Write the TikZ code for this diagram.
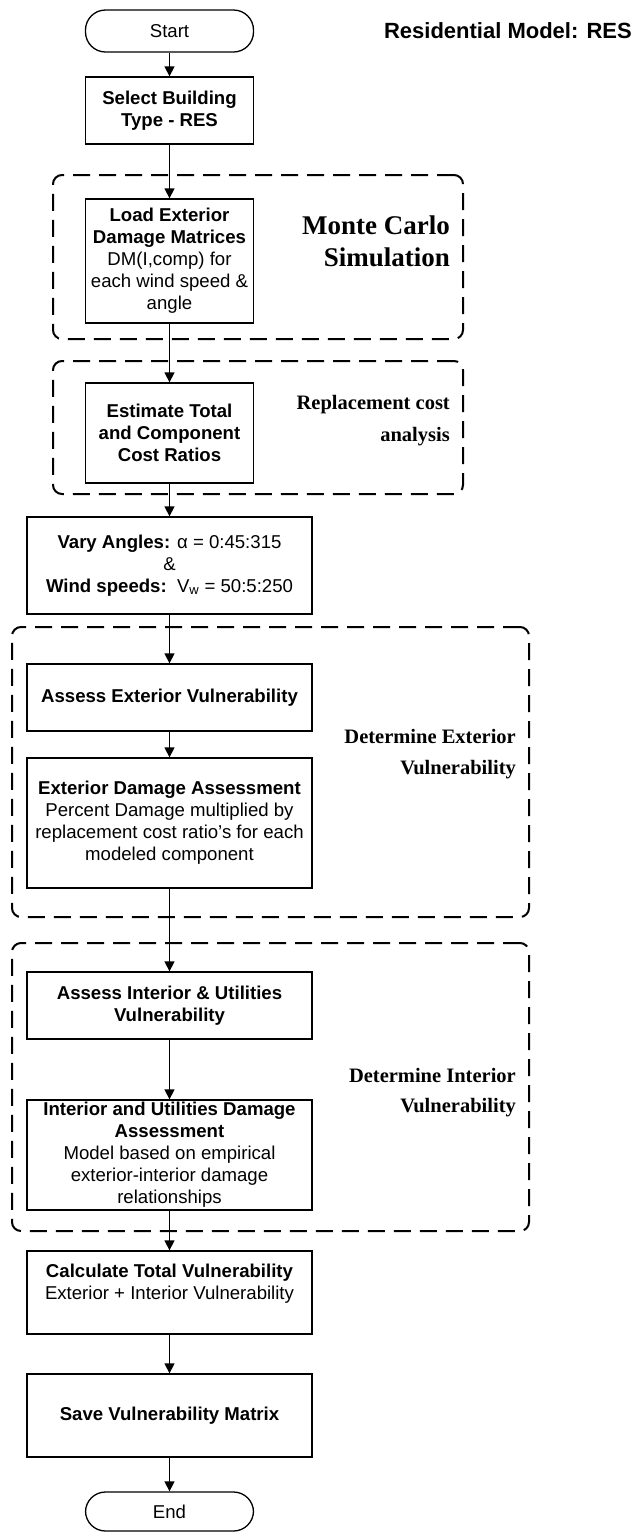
\documentclass[tikz,border=0pt]{standalone}
\usepackage{fontspec}
\setmainfont{Liberation Sans}
\newfontfamily\tnr{Liberation Serif}
\usetikzlibrary{arrows.meta}
\tikzset{
  box/.style={draw, line width=1.3pt, minimum width=168pt, inner sep=0pt, align=center,
    font=\fontsize{18.6}{22}\selectfont},
  widebox/.style={box, minimum width=285pt},
  term/.style={box, rounded corners=20pt},
  group/.style={draw, line width=2pt, dash pattern=on 17pt off 9pt, rounded corners=9pt, inner sep=0pt},
  glabel/.style={anchor=east, align=right, inner sep=0pt},
  arr/.style={line width=1.3pt, -{Triangle[length=10pt,width=10pt]}},
}
\begin{document}
\begin{tikzpicture}[x=1pt,y=-1pt]
\useasboundingbox (0,0) rectangle (634,1532);
% groups
\node[group, minimum width=410pt, minimum height=164pt] (mc) at (258,257) {};
\node[group, minimum width=410pt, minimum height=133pt] (rep) at (258,427.5) {};
\node[group, minimum width=517pt, minimum height=290pt] (extg) at (270.5,772) {};
\node[group, minimum width=517pt, minimum height=288pt] (intg) at (270.5,1087) {};
% group labels
\node[glabel, font=\tnr\bfseries\fontsize{27}{32}\selectfont] (mcl) at (450,241) {Monte Carlo\\Simulation};
\node[glabel, font=\tnr\bfseries\fontsize{20.5}{32}\selectfont] (repl) at (450,421) {Replacement cost\\analysis};
\node[glabel, font=\tnr\bfseries\fontsize{20.5}{31}\selectfont] (extl) at (516,754.5) {Determine Exterior\\Vulnerability};
\node[glabel, font=\tnr\bfseries\fontsize{20.5}{30}\selectfont] (intl) at (516,1093) {Determine Interior\\Vulnerability};
% title
\node[anchor=east, inner sep=0pt, font=\bfseries\fontsize{22}{24}\selectfont] (title) at (632,31) {Residential Model: RES};
% flow
\node[term, minimum height=42pt] (start) at (169.5,31) {Start};
\node[box, minimum height=67pt] (select) at (169.5,110.5) {\textbf{Select Building}\\\textbf{Type - RES}};
\node[box, minimum height=124pt] (load) at (169.5,261) {\textbf{Load Exterior}\\\textbf{Damage Matrices}\\DM(I,comp) for\\each wind speed \&\\angle};
\node[box, minimum height=100pt] (est) at (169.5,433) {\textbf{Estimate Total}\\\textbf{and Component}\\\textbf{Cost Ratios}};
\node[widebox, minimum height=97pt] (vary) at (169.5,565.5) {\textbf{Vary Angles:} α = 0:45:315\\\&\\\textbf{Wind speeds:}\ \ V\textsubscript{w} = 50:5:250};
\node[widebox, minimum height=67pt] (aext) at (169.5,697.5) {\textbf{Assess Exterior Vulnerability}};
\node[widebox, minimum height=130pt] (dext) at (169.5,823) {\textbf{Exterior Damage Assessment}\\Percent Damage multiplied by\\replacement cost ratio’s for each\\modeled component};
\node[widebox, minimum height=67pt] (aint) at (169.5,1005.5) {\textbf{Assess Interior \& Utilities}\\\textbf{Vulnerability}};
\node[widebox, minimum height=110pt] (dint) at (169.5,1155) {\textbf{Interior and Utilities Damage}\\\textbf{Assessment}\\Model based on empirical\\exterior-interior damage\\relationships};
\node[widebox, minimum height=83pt] (calc) at (169.5,1292.5) {\textbf{Calculate Total Vulnerability}\\Exterior + Interior Vulnerability\\\mbox{}};
\node[widebox, minimum height=83pt] (save) at (169.5,1415.5) {\textbf{Save Vulnerability Matrix}};
\node[term, minimum height=39pt] (end) at (169.5,1511.5) {End};
% connectors
\draw[arr] (start) -- (select);
\draw[arr] (select) -- (load);
\draw[arr] (load) -- (est);
\draw[arr] (est) -- (vary);
\draw[arr] (vary) -- (aext);
\draw[arr] (aext) -- (dext);
\draw[arr] (dext) -- (aint);
\draw[arr] (aint) -- (dint);
\draw[arr] (dint) -- (calc);
\draw[arr] (calc) -- (save);
\draw[arr] (save) -- (end);
\end{tikzpicture}
\end{document}
